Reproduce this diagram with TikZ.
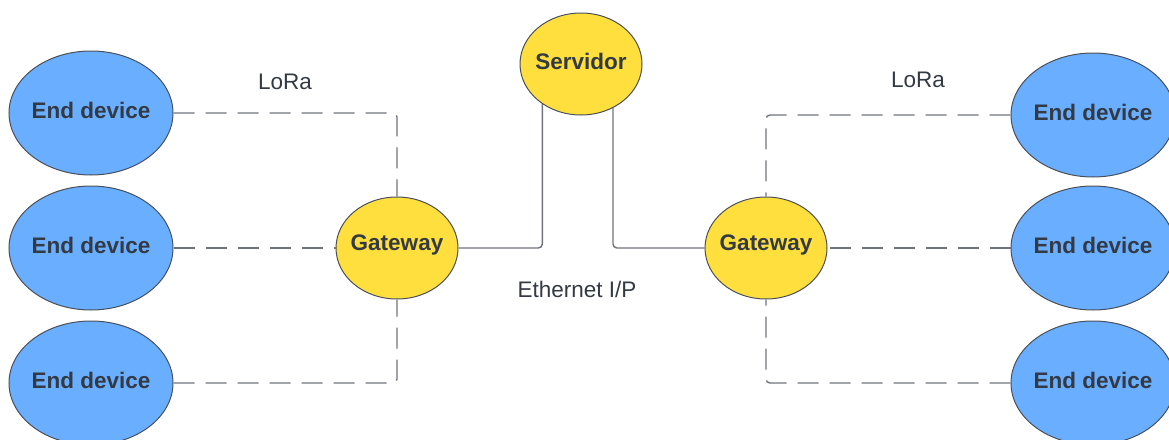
\documentclass[tikz,border=0pt]{standalone}
\usepackage{fontspec}
\setmainfont{Liberation Sans}
\usetikzlibrary{shapes.geometric}
\definecolor{devblue}{HTML}{6AAEFF}
\definecolor{gwyellow}{HTML}{FFDF3D}
\definecolor{ink}{HTML}{333A44}
\definecolor{rim}{HTML}{4A505A}
\definecolor{wire}{HTML}{6E737A}
% zero-width label box (ellipse size comes from the minimum sizes only),
% with extra depth so the words sit slightly above the centre
\newcommand{\zwlabel}[1]{\raisebox{0pt}[\height][\dimexpr\depth+6pt\relax]{\makebox[0pt]{#1}}}
\tikzset{
  device/.style={ellipse, draw=rim, line width=1pt, fill=devblue,
    minimum width=164pt, minimum height=124pt, inner sep=0pt,
    font=\fontsize{22.5}{26}\selectfont\bfseries, text=ink},
  hub/.style={ellipse, draw=rim, line width=1pt, fill=gwyellow,
    minimum width=122pt, minimum height=102pt, inner sep=0pt,
    font=\fontsize{22.5}{26}\selectfont\bfseries, text=ink},
  lora/.style={draw=wire, line width=1.4pt, dash pattern=on 21pt off 11pt, rounded corners=4pt},
  eth/.style={draw=wire, line width=1.4pt, rounded corners=4pt},
  caption/.style={font=\fontsize{22.5}{26}\selectfont, text=ink, inner sep=0pt}
}
\begin{document}
\begin{tikzpicture}[x=1pt, y=-1pt]
\useasboundingbox (0,0) rectangle (1169,439);

% left cluster
\node[device] (l1) at (91,113) {\zwlabel{End device}};
\node[device] (l2) at (91,248) {\zwlabel{End device}};
\node[device] (l3) at (91,383) {\zwlabel{End device}};
\node[hub] (g1) at (397,248) {\zwlabel{Gateway}};

% server
\node[hub] (srv) at (581,64) {\zwlabel{Servidor}};

% right cluster
\node[hub] (g2) at (766,248) {\zwlabel{Gateway}};
\node[device] (r1) at (1093,115) {\zwlabel{End device}};
\node[device] (r2) at (1093,248) {\zwlabel{End device}};
\node[device] (r3) at (1093,383) {\zwlabel{End device}};

% LoRa links
\draw[lora] (l1.east) -| (g1.north);
\draw[lora] (l2.east) -- (g1.west);
\draw[lora] (l3.east) -| (g1.south);
\draw[lora] (r1.west) -| (g2.north);
\draw[lora] (r2.west) -- (g2.east);
\draw[lora] (r3.west) -| (g2.south);

% Ethernet links
\draw[eth] (g1.east) -| (srv.226);
\draw[eth] (g2.west) -| (srv.306);

% labels
\node[caption] (loraL) at (285,82) {LoRa};
\node[caption] (loraR) at (918,80) {LoRa};
\node[caption] (ethL) at (577,289) {Ethernet I/P};
\end{tikzpicture}
\end{document}
